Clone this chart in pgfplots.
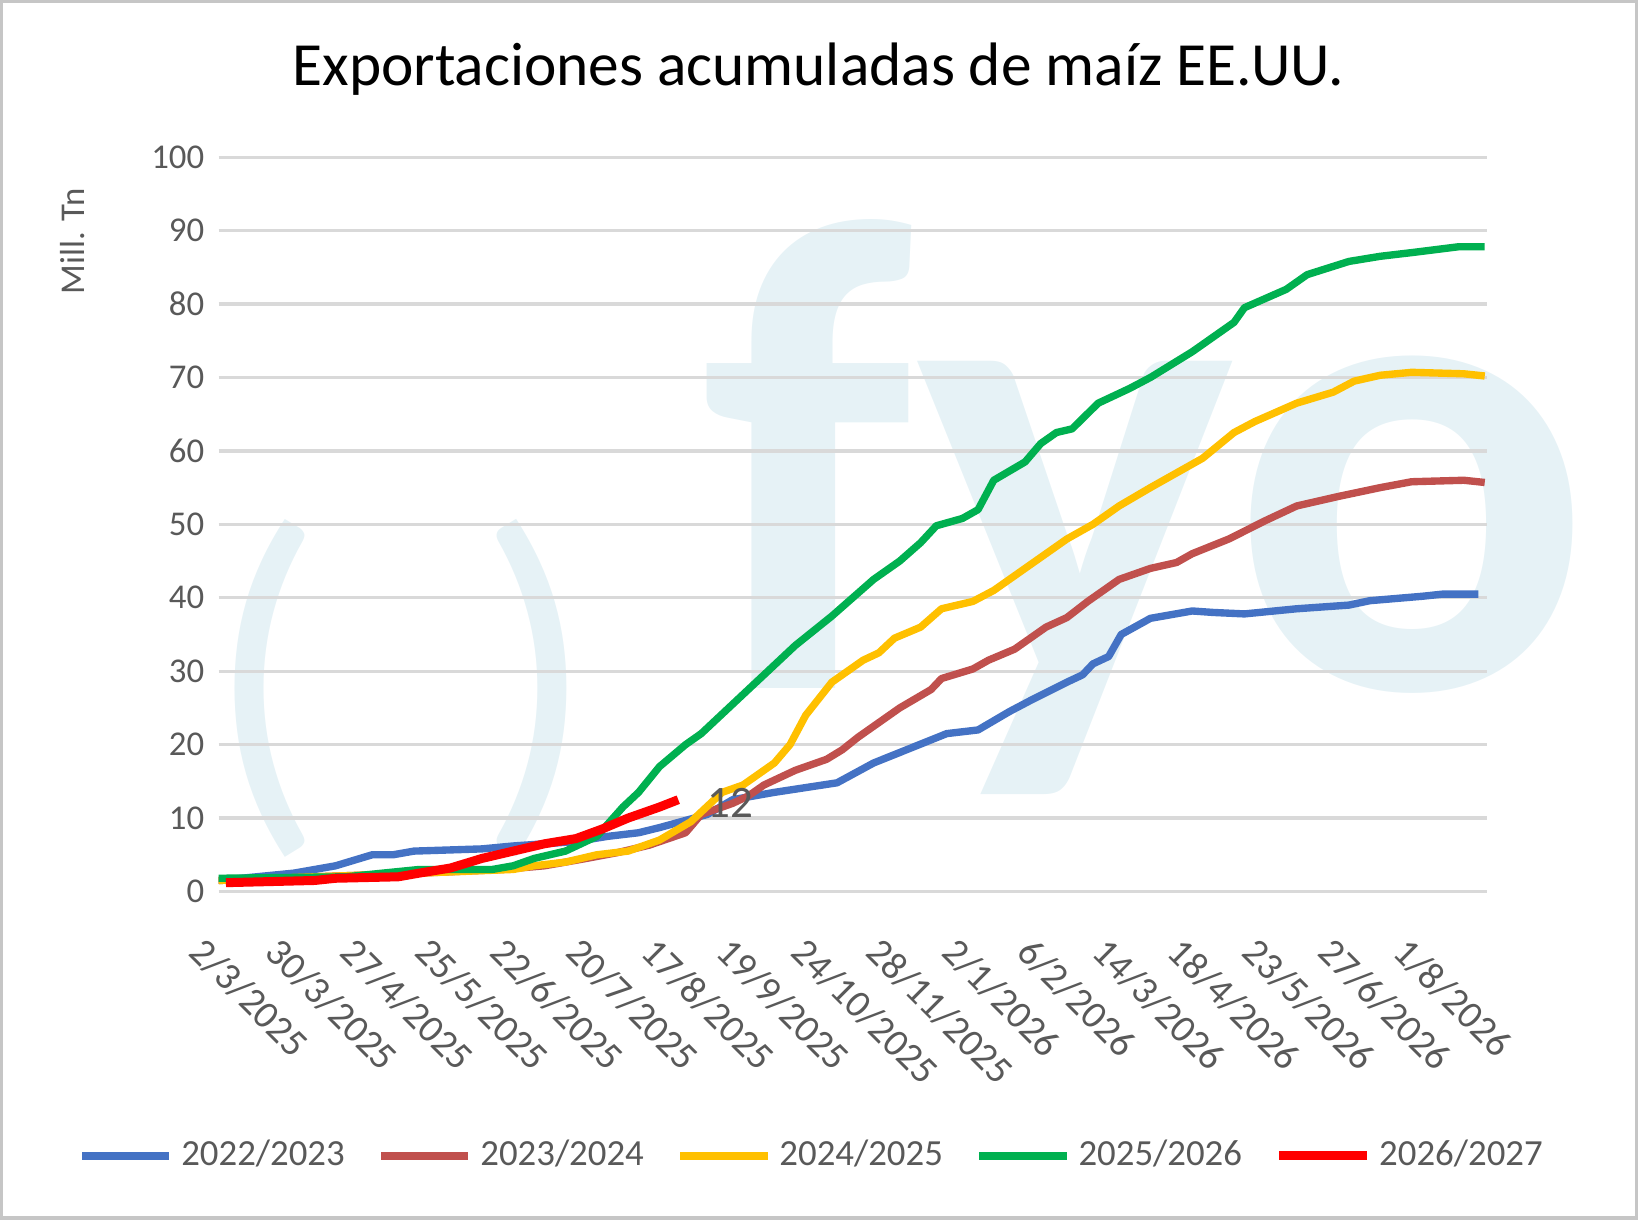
\documentclass[border=0pt]{standalone}
\usepackage{pgfplots}
\pgfplotsset{compat=1.18}
\usepackage{fontspec}
\setmainfont{Carlito}
\definecolor{cA}{RGB}{68,114,196}
\definecolor{cB}{RGB}{192,80,77}
\definecolor{cC}{RGB}{255,192,0}
\definecolor{cD}{RGB}{0,176,80}
\definecolor{cE}{RGB}{255,0,0}
\definecolor{wm}{RGB}{230,242,246}
\definecolor{txt}{RGB}{89,89,89}
\begin{document}
\begin{tikzpicture}[x=0.255pt,y=0.255pt]
\draw[gray!45,line width=0.8pt,use as bounding box] (-208,-313) rectangle (1359,853);
\node[wm,font=\fontsize{165}{165}\selectfont\bfseries,anchor=base] at (890,195) {fyo};
\node[wm,font=\fontsize{95}{95}\selectfont] at (45,195) {(};
\node[wm,font=\fontsize{95}{95}\selectfont] at (305,195) {)};
\node[font=\fontsize{15}{15}\selectfont] at (575,788) {Exportaciones acumuladas de maíz EE.UU.};
\node[txt,rotate=90,font=\fontsize{8.5}{8.5}\selectfont] at (-140,623) {Mill. Tn};
\begin{axis}[at={(0,0)},anchor=south west,scale only axis,
 width=310pt,height=179.5pt,
 xmin=208,xmax=1422,ymin=0,ymax=100,
 axis line style={draw=none},tick style={draw=none},
 ymajorgrids,grid style={gray!30,line width=0.8pt},
 ytick={0,10,...,100},
 xtick={208,280,352,424,496,568,640,712,784,856,928,1000,1072,1144,1216,1288,1360},
 xticklabels={2/3/2025,30/3/2025,27/4/2025,25/5/2025,22/6/2025,20/7/2025,17/8/2025,19/9/2025,24/10/2025,28/11/2025,2/1/2026,6/2/2026,14/3/2026,18/4/2026,23/5/2026,27/6/2026,1/8/2026},
 x tick label style={rotate=-45,anchor=north west,xshift=2pt,yshift=-6pt,font=\fontsize{9.5}{10}\selectfont},
 ticklabel style={txt},
 y tick label style={font=\fontsize{8.5}{9}\selectfont},
 /pgf/number format/assume math mode=true,
 legend style={at={(0.47,-0.36)},anchor=center,draw=none,legend columns=5,font=\fontsize{9}{9}\selectfont\color{txt},
  /tikz/every even column/.append style={column sep=6pt}},
 legend image code/.code={\draw[#1] (0cm,0cm) -- (0.75cm,0cm);},
 every axis plot/.append style={line width=1.8pt,line join=round}]
\addplot[cA] coordinates {(208,1.5)(280,2.5)(320,3.5)(355,5)(375,5)(395,5.5)(460,5.8)(490,6.2)(550,6.8)(580,7.5)(610,8)(630,8.7)(676,10.5)(700,12.5)(740,13.5)(800,14.8)(835,17.5)(870,19.5)(905,21.5)(935,22)(965,24.5)(985,26)(1020,28.5)(1035,29.5)(1045,31)(1060,32)(1072,35)(1100,37.2)(1140,38.2)(1160,38)(1190,37.8)(1240,38.5)(1290,39)(1310,39.6)(1360,40.2)(1380,40.5)(1414,40.5)};
\addlegendentry{2022/2023}
\addplot[cB] coordinates {(208,1.5)(300,2)(400,2.5)(480,3)(520,3.5)(560,4.5)(590,5.3)(620,6.3)(655,8)(670,10.5)(700,12)(715,13)(730,14.5)(760,16.5)(790,18)(805,19.3)(820,21)(840,23)(860,25)(890,27.5)(900,29)(930,30.3)(945,31.5)(970,33)(1000,36)(1020,37.3)(1040,39.5)(1070,42.5)(1100,44)(1125,44.8)(1140,46)(1175,48)(1210,50.5)(1240,52.5)(1280,53.8)(1320,55)(1350,55.8)(1400,56)(1420,55.7)};
\addlegendentry{2023/2024}
\addplot[cC] coordinates {(208,1.5)(300,2)(400,2.5)(490,3)(510,3.5)(540,4)(570,5)(600,5.5)(630,7)(660,9.5)(690,13.5)(710,14.5)(740,17.5)(755,20)(770,24)(795,28.5)(825,31.5)(840,32.5)(855,34.5)(880,36)(900,38.5)(930,39.5)(950,41)(970,43)(1000,46)(1020,48)(1045,50)(1070,52.5)(1100,55)(1125,57)(1150,59)(1180,62.5)(1200,64)(1240,66.5)(1275,68)(1295,69.5)(1320,70.3)(1350,70.7)(1400,70.5)(1420,70.2)};
\addlegendentry{2024/2025}
\addplot[cD] coordinates {(208,1.8)(330,2)(400,3)(470,3)(490,3.5)(510,4.5)(540,5.5)(570,7.5)(595,11.5)(610,13.5)(630,17)(655,20)(670,21.5)(700,25.5)(730,29.5)(760,33.5)(795,37.5)(815,40)(835,42.5)(860,45)(880,47.5)(895,49.8)(920,50.8)(935,52)(950,56)(980,58.5)(995,61)(1010,62.5)(1025,63)(1050,66.5)(1080,68.5)(1100,70)(1140,73.5)(1170,76.5)(1180,77.5)(1190,79.5)(1230,82)(1250,84)(1290,85.8)(1320,86.5)(1350,87)(1395,87.8)(1420,87.8)};
\addlegendentry{2025/2026}
\addplot[cE,line width=2.2pt] coordinates {(215,1.2)(300,1.5)(320,1.8)(380,2)(400,2.5)(430,3.2)(460,4.5)(490,5.5)(520,6.5)(550,7.2)(575,8.5)(600,10)(630,11.5)(648,12.5)};
\addlegendentry{2026/2027}
\node[txt,font=\fontsize{11}{11}\selectfont] at (axis cs:698,12) {12};
\node[black!75,font=\fontsize{13}{13}\selectfont,anchor=west] at (axis cs:1425,87.8) {88};
\end{axis}
\end{tikzpicture}
\end{document}
